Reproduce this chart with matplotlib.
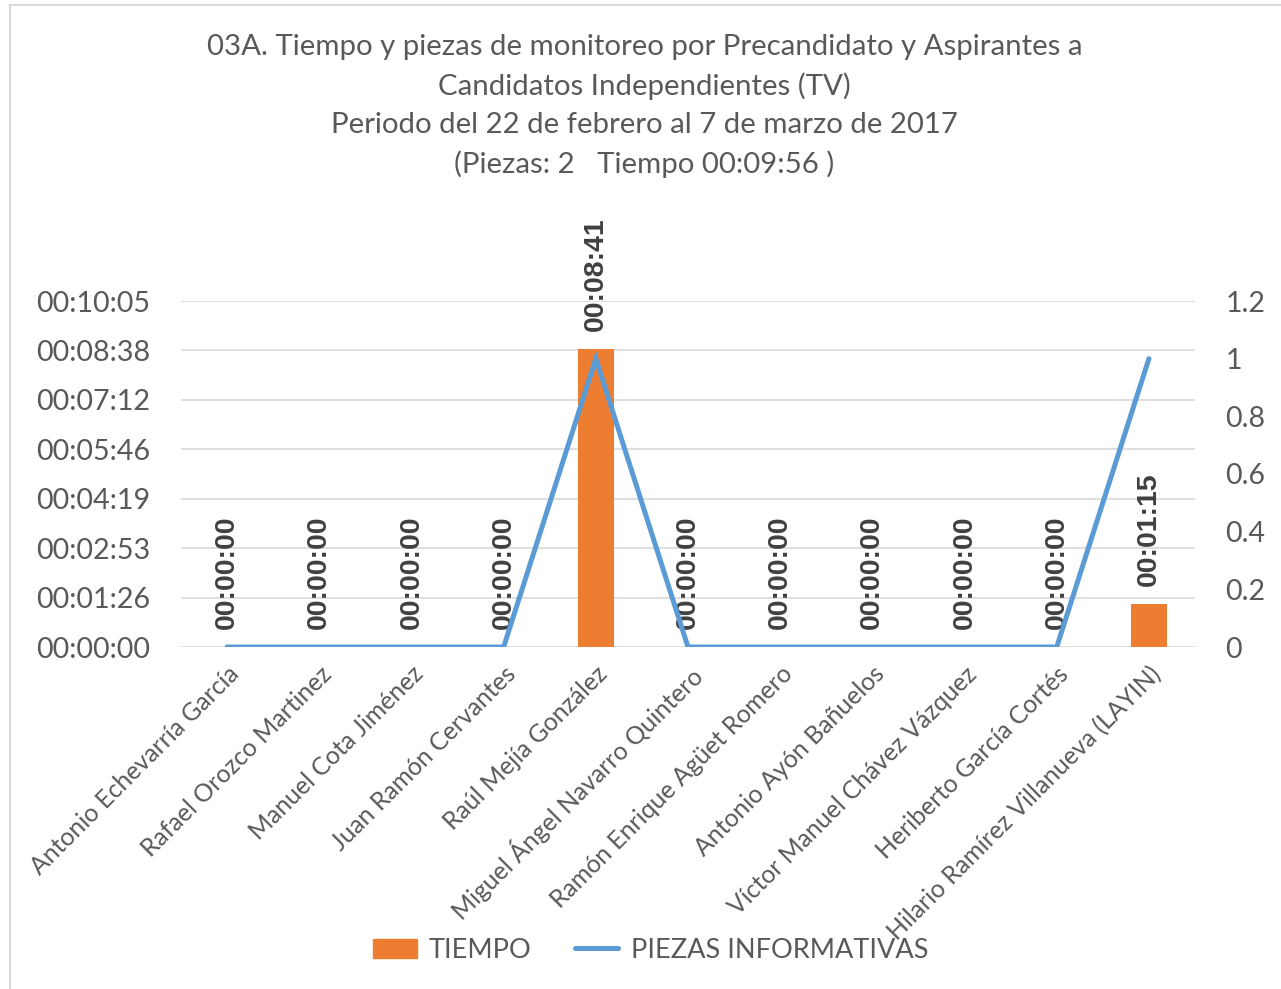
import matplotlib.pyplot as plt
from matplotlib.ticker import FixedLocator, FuncFormatter
from matplotlib.lines import Line2D

plt.rcParams['font.family'] = ['Lato', 'DejaVu Sans']

candidatos = ['Antonio Echevarría García', 'Rafael Orozco Martinez', 'Manuel Cota Jiménez',
              'Juan Ramón Cervantes', 'Raúl Mejía González', 'Miguel Ángel Navarro Quintero',
              'Ramón Enrique Agüet Romero', 'Antonio Ayón Bañuelos', 'Víctor Manuel Chávez Vázquez',
              'Heriberto García Cortés', 'Hilario Ramírez Villanueva (LAYIN)']
tiempo_seg = [0, 0, 0, 0, 521, 0, 0, 0, 0, 0, 75]
piezas = [0, 0, 0, 0, 1, 0, 0, 0, 0, 0, 1]

titulo = ('03A. Tiempo y piezas de monitoreo por Precandidato y Aspirantes a\n'
          'Candidatos Independientes (TV)\n'
          'Periodo del 22 de febrero al 7 de marzo de 2017\n'
          '(Piezas: 2   Tiempo 00:09:56 )')

naranja = '#ED7D31'
azul = '#5B9BD5'
gris = '#595959'


def hms(s):
    s = int(round(s))
    return '%02d:%02d:%02d' % (s // 3600, (s % 3600) // 60, s % 60)


fig = plt.figure(figsize=(12.81, 9.89), dpi=100)
ax = fig.add_axes([181 / 1281, 1 - 647 / 989, (1195 - 181) / 1281, (647 - 301) / 989])
ax2 = ax.twinx()

x = list(range(len(candidatos)))
ax.bar(x, tiempo_seg, width=0.39, color=naranja, zorder=2)
ax2.plot(x, piezas, color=azul, lw=3.6, solid_capstyle='round', solid_joinstyle='miter', zorder=3)

ax.set_xlim(-0.5, len(candidatos) - 0.5)
paso = 86.4
ax.set_ylim(0, 7 * paso)
ax.yaxis.set_major_locator(FixedLocator([i * paso for i in range(8)]))
ax.yaxis.set_major_formatter(FuncFormatter(lambda v, p: hms(v)))
ax2.set_ylim(0, 1.2)
ax2.set_yticks([0, 0.2, 0.4, 0.6, 0.8, 1, 1.2])
ax2.set_yticklabels(['0', '0.2', '0.4', '0.6', '0.8', '1', '1.2'])

ax.grid(axis='y', color='#d9d9d9', lw=1.2, zorder=0)
ax.set_axisbelow(True)
for a in (ax, ax2):
    for sp in a.spines.values():
        sp.set_visible(False)
ax.tick_params(axis='y', length=0, pad=22, labelsize=20.7, labelcolor=gris)
ax2.tick_params(axis='y', length=0, pad=22, labelsize=20.5, labelcolor=gris)
ax.set_xticks(x)
ax.set_xticklabels(candidatos, rotation=45, ha='right', va='top', rotation_mode='anchor',
                   fontsize=17.8, color=gris)
ax.tick_params(axis='x', length=0, pad=11)

for xi, v in zip(x, tiempo_seg):
    ax.annotate(hms(v), (xi, v), xytext=(0, 13), textcoords='offset points',
                rotation=90, ha='center', va='bottom', fontsize=20.5, fontweight='bold',
                color='#404040', family=['Liberation Sans', 'DejaVu Sans'], zorder=5)

fig.text(0.503, 1 - 34 / 989, titulo, ha='center', va='top', fontsize=21.2, color=gris,
         linespacing=1.56)

handles = [plt.Rectangle((0, 0), 1, 1, color=naranja),
           Line2D([0], [0], color=azul, lw=3.6, solid_capstyle='round')]
fig.legend(handles, ['TIEMPO', 'PIEZAS INFORMATIVAS'], loc='center',
           bbox_to_anchor=(0.508, 1 - 950 / 989), ncol=2, frameon=False, fontsize=19.5,
           labelcolor=gris, handlelength=1.6, handletextpad=0.45, columnspacing=1.6)

fig.add_artist(Line2D([10 / 1281, 10 / 1281], [0, 1 - 5 / 989], color='#d9d9d9', lw=1.5,
                      transform=fig.transFigure))
fig.add_artist(Line2D([10 / 1281, 1], [1 - 5 / 989, 1 - 5 / 989], color='#d9d9d9', lw=1.5,
                      transform=fig.transFigure))

fig.savefig('out.png', dpi=100)
